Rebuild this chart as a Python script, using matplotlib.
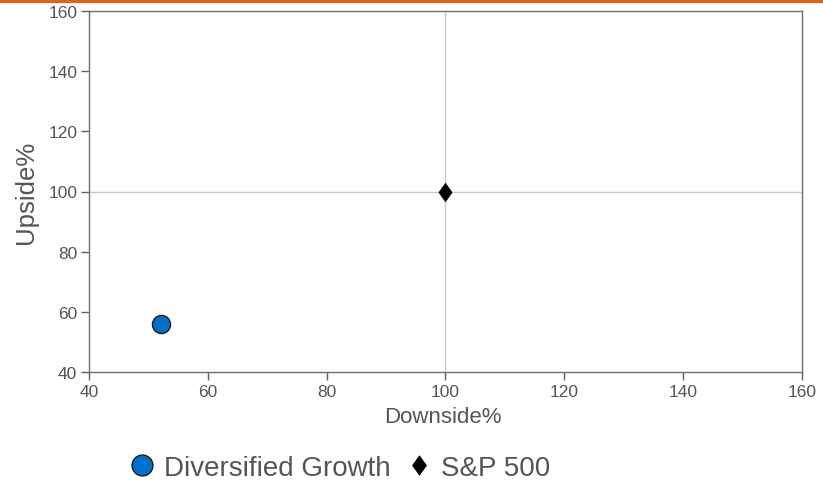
import matplotlib
matplotlib.use("Agg")
import matplotlib.pyplot as plt
from matplotlib.lines import Line2D

plt.rcParams['font.family'] = ['Liberation Sans', 'DejaVu Sans']

series_names = ["Diversified Growth", "S&P 500"]
downside = [52.2, 100.0]
upside = [56.0, 100.0]
colors = ["#0070C8", "#000000"]
xticks = [40, 60, 80, 100, 120, 140, 160]
yticks = [40, 60, 80, 100, 120, 140, 160]

diamond = [(0, 1), (0.72, 0), (0, -1), (-0.72, 0), (0, 1)]

fig = plt.figure(figsize=(8.23, 4.85), dpi=100)
ax = fig.add_axes([89/823, 1-373/485, (802-89)/823, (373-12)/485])

ax.axvline(100, color="#C8C8C8", lw=1, zorder=1)
ax.axhline(100, color="#C8C8C8", lw=1, zorder=1)

ax.scatter([downside[0]], [upside[0]], s=170, c=colors[0], marker="o",
           edgecolors="#1a1a1a", linewidths=1, zorder=3)
ax.scatter([downside[1]], [upside[1]], s=175, c=colors[1], marker=diamond,
           edgecolors="#000000", linewidths=0.5, zorder=3)

ax.set_xlim(40, 160)
ax.set_ylim(40, 160)
ax.set_xticks(xticks)
ax.set_yticks(yticks)
ax.tick_params(axis='both', colors="#606060", labelcolor="#555555", labelsize=12.5,
               length=6, width=1, pad=2.5)
for s in ax.spines.values():
    s.set_color("#6e6e6e")
    s.set_linewidth(1)
ax.set_xlabel("Downside%", fontsize=16, color="#555555")
ax.set_ylabel("Upside%", fontsize=18.5, color="#555555")
ax.xaxis.set_label_coords(0.497, -0.093)
ax.yaxis.set_label_coords(-0.0715, 0.5)

handles = [
    Line2D([], [], marker="o", ls="none", markersize=15, markerfacecolor=colors[0],
           markeredgecolor="#1a1a1a", markeredgewidth=1),
    Line2D([], [], marker=diamond, ls="none", markersize=14, markerfacecolor=colors[1],
           markeredgecolor="#000000", markeredgewidth=0.5),
]
fig.legend(handles, series_names, loc="center left", bbox_to_anchor=(117/823, 1-469/485),
           ncol=2, frameon=False, fontsize=20, labelcolor="#555555", borderpad=0,
           handletextpad=0.38, columnspacing=0.63, handlelength=0.8)

fig.add_artist(Line2D([0, 1], [1-1.5/485, 1-1.5/485], color="#D9661F", lw=3,
                      transform=fig.transFigure))

fig.savefig("out.png", dpi=100)
